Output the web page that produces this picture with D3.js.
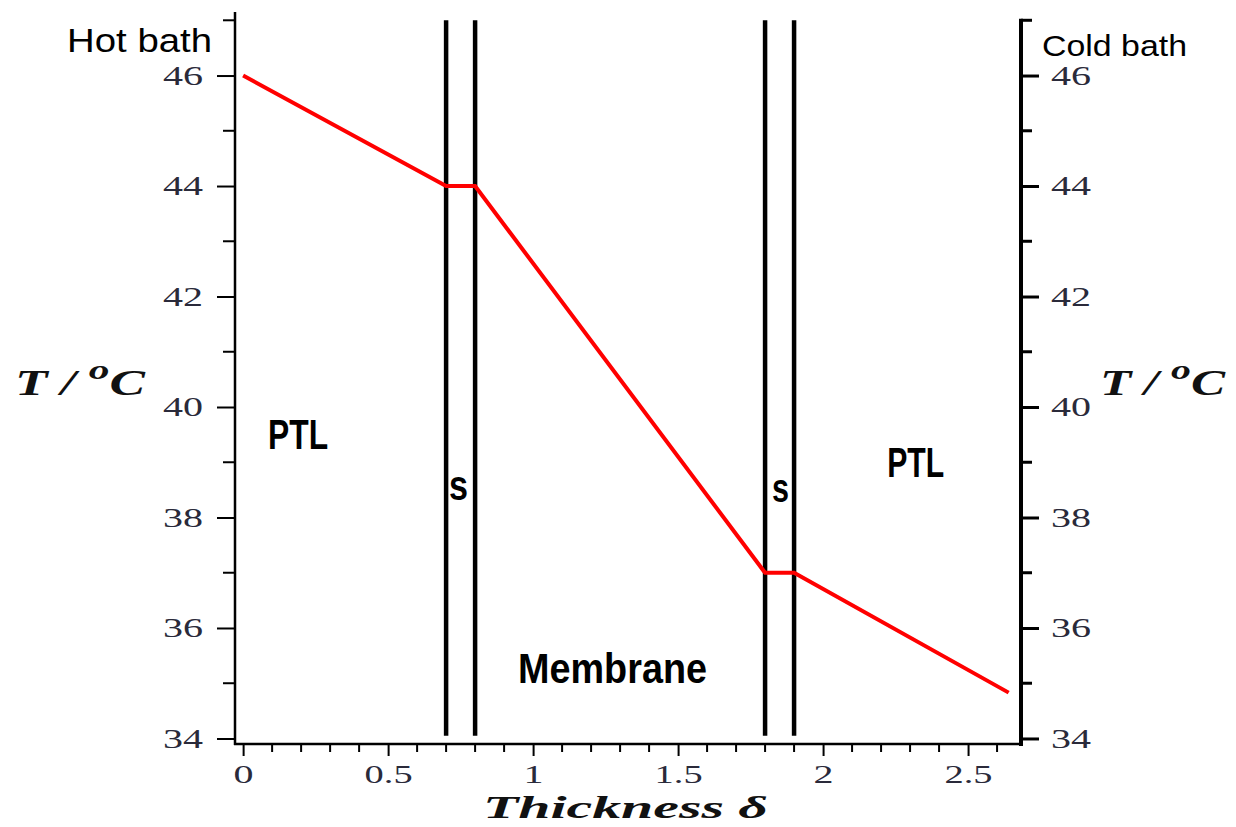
<!DOCTYPE html>
<html>
<head>
<meta charset="utf-8">
<title>Temperature profile</title>
<script src="https://d3js.org/d3.v7.min.js"></script>
<style>
  body { margin: 0; background: #fff; }
  svg { display: block; }
  .tick text { font-family: "Liberation Serif", "DejaVu Serif", serif; fill: #2a2a3a; }
  .lab { font-family: "Liberation Sans", Arial, sans-serif; fill: #000; }
  .ttl { font-family: "Liberation Serif", "DejaVu Serif", serif; font-weight: bold; font-style: italic; fill: #111; }
</style>
</head>
<body>
<script>
// data
var thickness = [0, 0.7, 0.8, 1.8, 1.9, 2.64];
var temperature = [46, 44, 44, 37, 37, 34.83];
var interfaces = [0.7, 0.8, 1.8, 1.9];
var xTicks = [0, 0.5, 1, 1.5, 2, 2.5];
var yTicks = [34, 36, 38, 40, 42, 44, 46];
var regionNames = ["PTL", "s", "Membrane", "s", "PTL"];
var regionX = [0.086, 0.71, 0.948, 1.824, 2.221];
var regionY = [39.24, 38.32, 35.0, 38.28, 38.73];

var W = 1236, H = 827;

var svg = d3.select("body").append("svg")
    .attr("width", W)
    .attr("height", H);

var x = d3.scaleLinear().domain([-0.028, 2.686]).range([235, 1022]);
var y = d3.scaleLinear().domain([33.9, 47.15]).range([744, 12]);

// label widths so the stretched serif digits match
function digitWidth(s) {
    var w = 0;
    for (var i = 0; i < s.length; i++) w += (s[i] == ".") ? 8 : 20;
    return w;
}
function stretch(sel) {
    sel.each(function() {
        var t = d3.select(this);
        t.attr("textLength", digitWidth(t.text())).attr("lengthAdjust", "spacingAndGlyphs");
    });
}

// left axis
var yLeft = d3.axisLeft(y).tickValues(yTicks).tickSize(18).tickPadding(14).tickFormat(d3.format("d"));
var gl = svg.append("g").attr("transform", "translate(235,0)").call(yLeft);
gl.select(".domain").remove();
gl.selectAll(".tick line").attr("stroke-width", 2);
gl.selectAll(".tick text").attr("font-size", 27).call(stretch);
gl.selectAll(".minor").data(d3.range(35, 48, 2)).enter().append("line")
    .attr("x1", -12).attr("x2", 0)
    .attr("y1", function(d) { return y(d); }).attr("y2", function(d) { return y(d); })
    .attr("stroke", "#000").attr("stroke-width", 2);
gl.append("line").attr("x1", 0).attr("x2", 0).attr("y1", y(47.15)).attr("y2", 745)
    .attr("stroke", "#000").attr("stroke-width", 2.5);

// right axis
var yRight = d3.axisRight(y).tickValues(yTicks).tickSize(18).tickPadding(12).tickFormat(d3.format("d"));
var gr = svg.append("g").attr("transform", "translate(1021,0)").call(yRight);
gr.select(".domain").remove();
gr.selectAll(".tick line").attr("stroke-width", 3);
gr.selectAll(".tick text").attr("font-size", 27).call(stretch);
gr.selectAll(".minor").data(d3.range(35, 48, 2)).enter().append("line")
    .attr("x1", 0).attr("x2", 11)
    .attr("y1", function(d) { return y(d); }).attr("y2", function(d) { return y(d); })
    .attr("stroke", "#000").attr("stroke-width", 3);
gr.append("line").attr("x1", 0).attr("x2", 0).attr("y1", y(47) - 1.5).attr("y2", 746)
    .attr("stroke", "#000").attr("stroke-width", 4);

// bottom axis
var xAxis = d3.axisBottom(x).tickValues(xTicks).tickSize(12).tickPadding(9).tickFormat(function(d) { return String(d); });
var gb = svg.append("g").attr("transform", "translate(0,744)").call(xAxis);
gb.select(".domain").remove();
gb.selectAll(".tick line").attr("stroke-width", 2);
gb.selectAll(".tick text").attr("font-size", 25).call(stretch);
gb.selectAll(".minor").data(d3.range(1, 27).filter(function(i) { return i % 5 != 0; }).map(function(i) { return i / 10; }))
    .enter().append("line")
    .attr("x1", function(d) { return x(d); }).attr("x2", function(d) { return x(d); })
    .attr("y1", 0).attr("y2", 8)
    .attr("stroke", "#000").attr("stroke-width", 2);
gb.append("line").attr("x1", 234).attr("x2", 1023).attr("y1", 0).attr("y2", 0)
    .attr("stroke", "#000").attr("stroke-width", 2.5);

// interface lines
svg.selectAll(".iface").data(interfaces).enter().append("line")
    .attr("class", "iface")
    .attr("x1", function(d) { return x(d); }).attr("x2", function(d) { return x(d); })
    .attr("y1", y(47)).attr("y2", y(34.05))
    .attr("stroke", "#000").attr("stroke-width", 4.5);

// temperature profile
var line = d3.line()
    .x(function(d, i) { return x(thickness[i]); })
    .y(function(d) { return y(d); });
svg.append("path").datum(temperature)
    .attr("d", line)
    .attr("fill", "none")
    .attr("stroke", "#ff0000")
    .attr("stroke-width", 4);

// region labels
var regionW = [60, 19, 189, 17, 57];
var regionSize = [42, 42, 42, 40, 42];
svg.selectAll(".region").data(regionNames).enter().append("text")
    .attr("class", "lab region")
    .attr("x", function(d, i) { return x(regionX[i]); })
    .attr("y", function(d, i) { return y(regionY[i]); })
    .attr("font-size", function(d, i) { return regionSize[i]; })
    .attr("font-weight", "bold")
    .attr("textLength", function(d, i) { return regionW[i]; })
    .attr("lengthAdjust", "spacingAndGlyphs")
    .text(function(d) { return d; });

// bath labels
svg.append("text").attr("class", "lab")
    .attr("x", x(-0.107)).attr("y", y(46.43))
    .attr("text-anchor", "end")
    .attr("font-size", 33)
    .attr("textLength", 145).attr("lengthAdjust", "spacingAndGlyphs")
    .text("Hot bath");
svg.append("text").attr("class", "lab")
    .attr("x", x(2.755)).attr("y", y(46.36))
    .attr("font-size", 30)
    .attr("textLength", 145).attr("lengthAdjust", "spacingAndGlyphs")
    .text("Cold bath");

// axis titles
function tTitle(x0, base, w) {
    var t = svg.append("text").attr("class", "ttl")
        .attr("x", x0).attr("y", base)
        .attr("font-size", 36)
        .attr("textLength", w).attr("lengthAdjust", "spacingAndGlyphs");
    t.append("tspan").text("T / ");
    t.append("tspan").attr("dy", -16).attr("font-size", 28).text("o");
    t.append("tspan").attr("dy", 16).text("C");
}
tTitle(15, 395, 130);
tTitle(1100, 395, 125);

svg.append("text").attr("class", "ttl")
    .attr("x", 483).attr("y", 818)
    .attr("font-size", 31)
    .attr("textLength", 285).attr("lengthAdjust", "spacingAndGlyphs")
    .text("Thickness δ");
</script>
</body>
</html>
